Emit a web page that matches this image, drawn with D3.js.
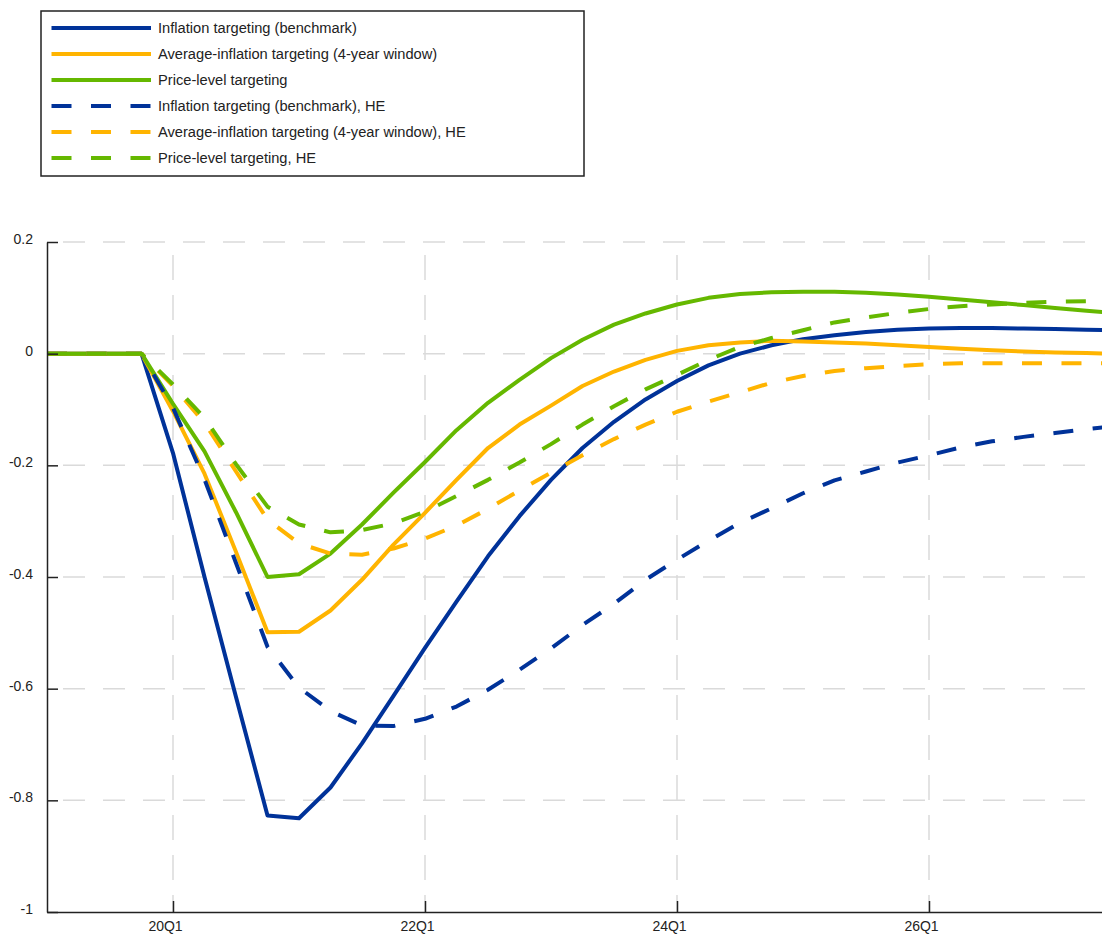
<!DOCTYPE html>
<html>
<head>
<meta charset="utf-8">
<script src="https://cdn.jsdelivr.net/npm/d3@7"></script>
<style>
  html, body { margin: 0; padding: 0; background: #fff; }
  svg { display: block; font-family: "Liberation Sans", Arial, sans-serif; }
</style>
</head>
<body>
<svg id="chart" width="1102" height="934"></svg>
<script>
const quarters = ["19Q1","19Q2","19Q3","19Q4","20Q1","20Q2","20Q3","20Q4","21Q1","21Q2","21Q3","21Q4",
  "22Q1","22Q2","22Q3","22Q4","23Q1","23Q2","23Q3","23Q4","24Q1","24Q2","24Q3","24Q4",
  "25Q1","25Q2","25Q3","25Q4","26Q1","26Q2","26Q3","26Q4","27Q1","27Q2","27Q3"];

const xTickLabels = ["20Q1","22Q1","24Q1","26Q1"];
const yTicks = [0.2, 0, -0.2, -0.4, -0.6, -0.8, -1];
const yTickLabels = ["0.2","0","-0.2","-0.4","-0.6","-0.8","-1"];

const seriesNames = [
  "Inflation targeting (benchmark)",
  "Average-inflation targeting (4-year window)",
  "Price-level targeting",
  "Inflation targeting (benchmark), HE",
  "Average-inflation targeting (4-year window), HE",
  "Price-level targeting, HE"
];

const itBenchmark = [0,0,0,0,-0.178,-0.40,-0.615,-0.827,-0.832,-0.777,-0.698,-0.613,
  -0.527,-0.444,-0.363,-0.291,-0.226,-0.169,-0.122,-0.082,-0.049,-0.021,0.0,0.015,
  0.026,0.033,0.039,0.043,0.045,0.046,0.046,0.045,0.044,0.043,0.042];

const aitWindow = [0,0,0,0,-0.103,-0.215,-0.355,-0.499,-0.498,-0.46,-0.405,-0.342,
  -0.285,-0.226,-0.169,-0.127,-0.093,-0.058,-0.032,-0.011,0.005,0.015,0.020,0.023,
  0.022,0.020,0.018,0.015,0.012,0.009,0.006,0.004,0.002,0.001,0.0];

const plt = [0,0,0,0,-0.09,-0.175,-0.284,-0.40,-0.395,-0.358,-0.306,-0.249,
  -0.194,-0.137,-0.088,-0.047,-0.008,0.025,0.052,0.072,0.088,0.100,0.107,0.110,
  0.111,0.111,0.109,0.106,0.102,0.097,0.092,0.087,0.082,0.077,0.072];

const itHE = [0,0,0,0,-0.097,-0.225,-0.375,-0.525,-0.598,-0.640,-0.666,-0.667,
  -0.654,-0.632,-0.602,-0.566,-0.528,-0.486,-0.448,-0.405,-0.369,-0.335,-0.303,-0.277,
  -0.250,-0.227,-0.211,-0.195,-0.182,-0.168,-0.157,-0.149,-0.142,-0.135,-0.129];

const aitHE = [0,0,0,0,-0.058,-0.124,-0.211,-0.297,-0.340,-0.358,-0.360,-0.349,
  -0.331,-0.308,-0.278,-0.245,-0.213,-0.182,-0.153,-0.127,-0.104,-0.086,-0.069,-0.052,
  -0.040,-0.031,-0.026,-0.022,-0.019,-0.017,-0.017,-0.017,-0.017,-0.017,-0.017];

const pltHE = [0,0,0,0,-0.055,-0.115,-0.198,-0.274,-0.306,-0.320,-0.316,-0.304,
  -0.283,-0.255,-0.226,-0.195,-0.162,-0.127,-0.094,-0.064,-0.038,-0.011,0.012,0.028,
  0.042,0.056,0.065,0.073,0.080,0.085,0.088,0.091,0.093,0.094,0.094];

const seriesValues = [itBenchmark, aitWindow, plt, itHE, aitHE, pltHE];
const seriesColors = ["#003299","#FFB400","#65B800","#003299","#FFB400","#65B800"];
const seriesDashed = [false,false,false,true,true,true];

const svg = d3.select("#chart");
const x = d3.scalePoint().domain(quarters).range([47, 47 + 31.5 * (quarters.length - 1)]);
const y = d3.scaleLinear().domain([-1, 0.2]).range([912, 242]);
const xEnd = 1102;

// grid
const grid = svg.append("g");
grid.selectAll("line.h").data(yTicks.filter(v => v !== -1)).enter().append("line")
  .attr("x1", x(quarters[0])).attr("x2", xEnd)
  .attr("y1", d => y(d)).attr("y2", d => y(d))
  .attr("stroke", "#dadada").attr("stroke-width", 1.5)
  .attr("stroke-dasharray", "22,18").attr("stroke-dashoffset", 24);
grid.selectAll("line.v").data(xTickLabels).enter().append("line")
  .attr("x1", d => x(d)).attr("x2", d => x(d))
  .attr("y1", y(0.2)).attr("y2", y(-1))
  .attr("stroke", "#dadada").attr("stroke-width", 1.5)
  .attr("stroke-dasharray", "25,15").attr("stroke-dashoffset", 27);

// lines
const line = d3.line().x((d, i) => x(quarters[i])).y(d => y(d));
seriesValues.forEach((vals, k) => {
  svg.append("path").datum(vals)
    .attr("d", line)
    .attr("fill", "none")
    .attr("stroke", seriesColors[k])
    .attr("stroke-width", 4)
    .attr("stroke-linejoin", "round")
    .attr("stroke-dasharray", seriesDashed[k] ? "20,19.5" : null);
});

// axes
const gy = svg.append("g").attr("transform", "translate(" + x(quarters[0]) + ",0)")
  .call(d3.axisLeft(y).tickValues(yTicks).tickFormat((d, i) => yTickLabels[i])
    .tickSizeInner(-11).tickSizeOuter(0).tickPadding(14));
gy.select(".domain").attr("stroke", "#222").attr("stroke-width", 1.5);
gy.selectAll(".tick line").attr("stroke", "#222").attr("stroke-width", 1.5);
gy.selectAll(".tick text").attr("dy", "0.1em").attr("fill", "#222")
  .style("font-size", "14px").style("font-family", "'Liberation Sans', Arial, sans-serif");

const gx = svg.append("g").attr("transform", "translate(0," + y(-1) + ")")
  .call(d3.axisBottom(x).tickValues(xTickLabels)
    .tickSizeInner(-11).tickSizeOuter(0).tickPadding(9));
gx.select(".domain").attr("stroke", "#222").attr("stroke-width", 1.5);
gx.selectAll(".tick line").attr("stroke", "#222").attr("stroke-width", 1.5);
gx.selectAll(".tick text").attr("dx", "-8").attr("fill", "#222")
  .style("font-size", "14px").style("font-family", "'Liberation Sans', Arial, sans-serif");

// legend
const lg = svg.append("g");
lg.append("rect").attr("x", 41).attr("y", 11).attr("width", 543).attr("height", 165)
  .attr("fill", "#fff").attr("stroke", "#222").attr("stroke-width", 1.5);
seriesNames.forEach((name, k) => {
  const ly = 28 + 26 * k;
  lg.append("line").attr("x1", 51.5).attr("x2", 151).attr("y1", ly).attr("y2", ly)
    .attr("stroke", seriesColors[k]).attr("stroke-width", 4)
    .attr("stroke-dasharray", seriesDashed[k] ? "20,19.5" : null);
  lg.append("text").attr("x", 158).attr("y", ly + 5).text(name)
    .attr("fill", "#222").style("font-size", "14.67px");
});
</script>
</body>
</html>
